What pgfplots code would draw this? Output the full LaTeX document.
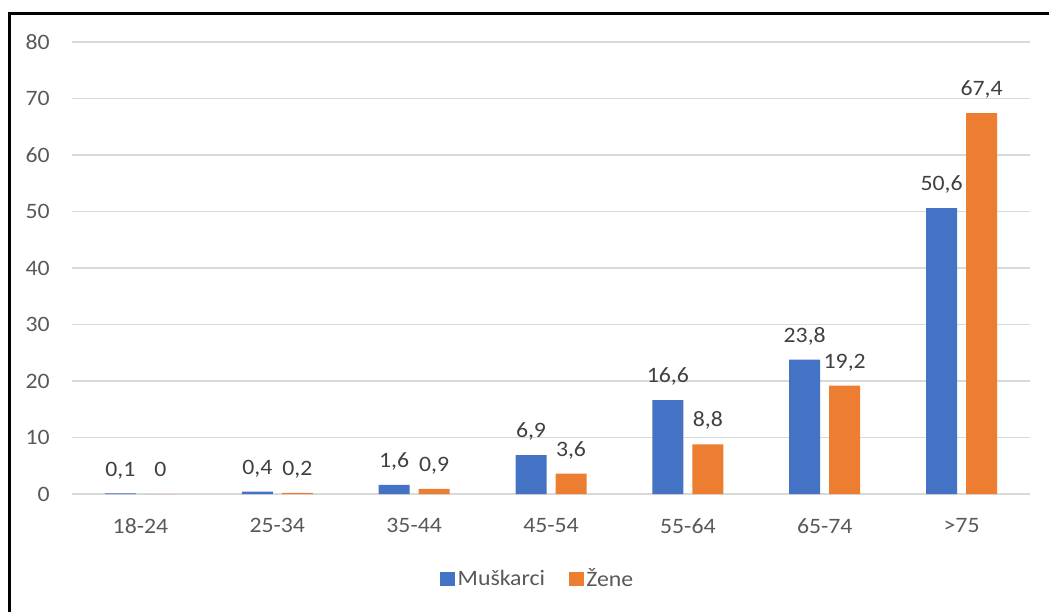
\documentclass[border=0pt]{standalone}
\usepackage{fontspec}
\setmainfont{Carlito}[FakeStretch=1.08]
\usepackage{pgfplots}
\pgfplotsset{compat=1.18}
\definecolor{cblue}{HTML}{4472C4}
\definecolor{corange}{HTML}{ED7D31}
\definecolor{cgrid}{HTML}{D9D9D9}
\definecolor{ctick}{HTML}{595959}
\definecolor{clabel}{HTML}{404040}
\begin{document}
\begin{tikzpicture}[font=\fontsize{16.5pt}{19pt}\selectfont]
\useasboundingbox (0pt,0pt) rectangle (786.75pt,459pt);
\draw[line width=2.25pt] (6.75pt,0pt) -- (6.75pt,448.7pt) -- (786.75pt,448.7pt);
\begin{axis}[
  at={(54pt,88.5pt)}, anchor=south west,
  scale only axis, width=718.5pt, height=339pt,
  ybar=6.75pt, bar width=23.25pt,
  xmin=-0.5, xmax=6.5, ymin=0, ymax=80,
  xtick={0,...,6},
  xticklabels={18-24,25-34,35-44,45-54,55-64,65-74,>75},
  ytick={0,10,...,80},
  ymajorgrids, grid style={cgrid, line width=1pt},
  axis line style={draw=none},
  major tick length=0pt,
  clip=false,
  /pgf/number format/assume math mode=true,
  /pgf/number format/use comma,
  /pgf/number format/fixed,
  /pgf/number format/precision=1,
  xticklabel style={anchor=north, inner sep=0pt, yshift=-18pt, text=ctick},
  yticklabel style={anchor=east, inner sep=0pt, xshift=-16.5pt, text=ctick},
  nodes near coords,
  every node near coord/.append style={anchor=base, inner sep=0pt, yshift=13pt, text=clabel},
  legend columns=2,
  legend style={at={(0.4864,-0.188)}, anchor=center, draw=none, fill=none, text=ctick,
    /tikz/every even column/.append style={column sep=15.75pt}},
  legend image code/.code={\fill[#1, draw=none] (0pt,-5.6pt) rectangle (11.25pt,5.6pt);},
]
\addplot[fill=cblue, draw=none] coordinates {(0,0.1) (1,0.4) (2,1.6) (3,6.9) (4,16.6) (5,23.8) (6,50.6)};
\addplot[fill=corange, draw=none] coordinates {(0,0) (1,0.2) (2,0.9) (3,3.6) (4,8.8) (5,19.2) (6,67.4)};
\legend{Muškarci, Žene}
\end{axis}
\end{tikzpicture}
\end{document}
